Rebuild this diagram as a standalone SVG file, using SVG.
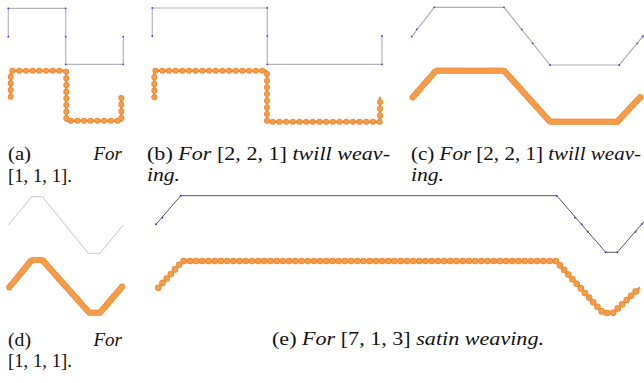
<svg xmlns="http://www.w3.org/2000/svg" width="644" height="383" viewBox="0 0 644 383">
<style>
.g{fill:none;stroke:#b4b4bc;stroke-width:1.2}
.gd{fill:none;stroke:#555;stroke-width:1}
.gl{fill:none;stroke:#c4c4d4;stroke-width:1}
.d{fill:#3a3aff}
.ol{fill:none;stroke:#ef8f3c;stroke-width:2.4;stroke-linejoin:round}
.be{fill:none;stroke:#e8842f;stroke-linecap:round;stroke-linejoin:round}
.bf{fill:none;stroke:#f69c48;stroke-linecap:round;stroke-linejoin:round}
.i{font-style:italic}
</style>
<rect width="644" height="383" fill="#fff"/>

<g id="panel-a">
<polyline class="g" points="8.3,36.7 8.3,8.3 65.7,8.3 65.7,64.3 123.3,64.3 123.3,36.7"/>
<g class="d"><circle cx="8.3" cy="36.7" r="0.9"/><circle cx="8.3" cy="8.3" r="0.9"/><circle cx="65.7" cy="8.3" r="0.9"/><circle cx="65.7" cy="36.7" r="0.9"/><circle cx="65.7" cy="64.3" r="0.9"/><circle cx="123.3" cy="64.3" r="0.9"/><circle cx="123.3" cy="36.7" r="0.9"/></g>
<path class="ol" d="M10.7,96.7 V72.7 Q10.7,70.7 12.7,70.7 H64.3 Q66.3,70.7 66.3,72.7 V120.7 H121.3 V96.7"/>
<path class="be" stroke-width="6" stroke-dasharray="0 6.68" d="M10.7,96.7 V72.7 Q10.7,70.7 12.7,70.7 H64.3 Q66.3,70.7 66.3,72.7 V120.7 H121.3 V96.7"/>
<path class="bf" stroke-width="4.8" stroke-dasharray="0 6.68" d="M10.7,96.7 V72.7 Q10.7,70.7 12.7,70.7 H64.3 Q66.3,70.7 66.3,72.7 V120.7 H121.3 V96.7"/>
<g font-family="Liberation Serif, serif" font-size="19" fill="#111">
<text x="8" y="160" textLength="23" lengthAdjust="spacingAndGlyphs">(a)</text>
<text class="i" x="122" y="160" text-anchor="end">For</text>
<text x="8" y="181.5" textLength="64" lengthAdjust="spacingAndGlyphs">[1, 1, 1].</text>
</g>
</g>

<g id="panel-b">
<polyline class="g" points="152.3,36 152.3,8 267.3,8 267.3,64.3 382,64.3 382,36"/>
<g class="d"><circle cx="152.3" cy="36" r="0.9"/><circle cx="152.3" cy="8" r="0.9"/><circle cx="267.3" cy="8" r="0.9"/><circle cx="267.3" cy="36" r="0.9"/><circle cx="267.3" cy="64.3" r="0.9"/><circle cx="382" cy="64.3" r="0.9"/><circle cx="382" cy="36" r="0.9"/></g>
<path class="ol" d="M154.3,97.3 V72.7 Q154.3,70.7 156.3,70.7 H265 Q267,70.7 267,72.7 V121.7 H380 V96.7"/>
<path class="be" stroke-width="6" stroke-dasharray="0 6.68" d="M154.3,97.3 V72.7 Q154.3,70.7 156.3,70.7 H265 Q267,70.7 267,72.7 V121.7 H380 V96.7"/>
<path class="bf" stroke-width="4.8" stroke-dasharray="0 6.68" d="M154.3,97.3 V72.7 Q154.3,70.7 156.3,70.7 H265 Q267,70.7 267,72.7 V121.7 H380 V96.7"/>
<g font-family="Liberation Serif, serif" font-size="19" fill="#111">
<text x="147" y="160" textLength="243" lengthAdjust="spacingAndGlyphs">(b) <tspan class="i">For</tspan> [2, 2, 1] <tspan class="i">twill weav-</tspan></text>
<text class="i" x="147" y="181" textLength="33" lengthAdjust="spacingAndGlyphs">ing.</text>
</g>
</g>

<g id="panel-c">
<polyline class="g" style="stroke:#b0b0b4" points="411.7,36.7 434.3,7.3 504,7.3 550,65 619.3,65 644.5,34.4"/>
<g class="d"><circle cx="411.7" cy="36.7" r="0.9"/><circle cx="416.7" cy="29.3" r="0.9"/><circle cx="434.3" cy="7.3" r="0.9"/><circle cx="504" cy="7.3" r="0.9"/><circle cx="521.7" cy="29.3" r="0.9"/><circle cx="532.7" cy="43.3" r="0.9"/><circle cx="550" cy="65" r="0.9"/><circle cx="619.3" cy="65" r="0.9"/><circle cx="637.3" cy="43.3" r="0.9"/><circle cx="642.7" cy="36.5" r="0.9"/></g>
<path class="be" stroke-width="6.2" stroke-dasharray="0 2.6" d="M412.7,97.3 L436,70.7 H504 L550,121.7 H617.3 L640.7,96.7"/>
<path class="bf" stroke-width="4.8" d="M412.7,97.3 L436,70.7 H504 L550,121.7 H617.3 L640.7,96.7"/>
<g font-family="Liberation Serif, serif" font-size="19" fill="#111">
<text x="411" y="160" textLength="230" lengthAdjust="spacingAndGlyphs">(c) <tspan class="i">For</tspan> [2, 2, 1] <tspan class="i">twill weav-</tspan></text>
<text class="i" x="411" y="181" textLength="33" lengthAdjust="spacingAndGlyphs">ing.</text>
</g>
</g>

<g id="panel-d">
<polyline class="gl" points="8.3,225 31.7,196.7 42.3,196.7 88.3,253.3 100,253.3 123.3,225"/>
<path class="be" stroke-width="6.2" stroke-dasharray="0 2.6" d="M9.3,287.3 L31.7,260 H42.3 L89.3,312.7 H100 L122.7,286"/>
<path class="bf" stroke-width="4.8" d="M9.3,287.3 L31.7,260 H42.3 L89.3,312.7 H100 L122.7,286"/>
<g font-family="Liberation Serif, serif" font-size="19" fill="#111">
<text x="8" y="346" textLength="23" lengthAdjust="spacingAndGlyphs">(d)</text>
<text class="i" x="122" y="346" text-anchor="end">For</text>
<text x="8" y="367" textLength="64" lengthAdjust="spacingAndGlyphs">[1, 1, 1].</text>
</g>
</g>

<g id="panel-e">
<polyline class="gd" points="156,224.3 180.7,195.7 556.7,195.7 605.7,252.3 617.3,252.3 644.5,221"/>
<g class="d"><circle cx="156" cy="224.3" r="1"/><circle cx="162.3" cy="217.7" r="1"/><circle cx="180.7" cy="195.7" r="1"/><circle cx="556.7" cy="195.7" r="1"/><circle cx="575" cy="217.7" r="1"/><circle cx="581.7" cy="224.3" r="1"/><circle cx="587.7" cy="231.7" r="1"/><circle cx="605.7" cy="252.3" r="1"/><circle cx="617.3" cy="252.3" r="1"/><circle cx="635.7" cy="231.7" r="1"/><circle cx="641.7" cy="224.3" r="1"/></g>
<path class="ol" d="M158.3,287.7 L182.7,261 H556 L603,313 H613 L640,287.3"/>
<path class="be" stroke-width="6.6" stroke-dasharray="0 6.2" d="M158.3,287.7 L182.7,261 H556 L603,313 H613 L640,287.3"/>
<path class="bf" stroke-width="5.2" stroke-dasharray="0 6.2" d="M158.3,287.7 L182.7,261 H556 L603,313 H613 L640,287.3"/>
<g font-family="Liberation Serif, serif" font-size="19" fill="#111">
<text x="272" y="345" textLength="272" lengthAdjust="spacingAndGlyphs">(e) <tspan class="i">For</tspan> [7, 1, 3] <tspan class="i">satin weaving.</tspan></text>
</g>
</g>
</svg>
